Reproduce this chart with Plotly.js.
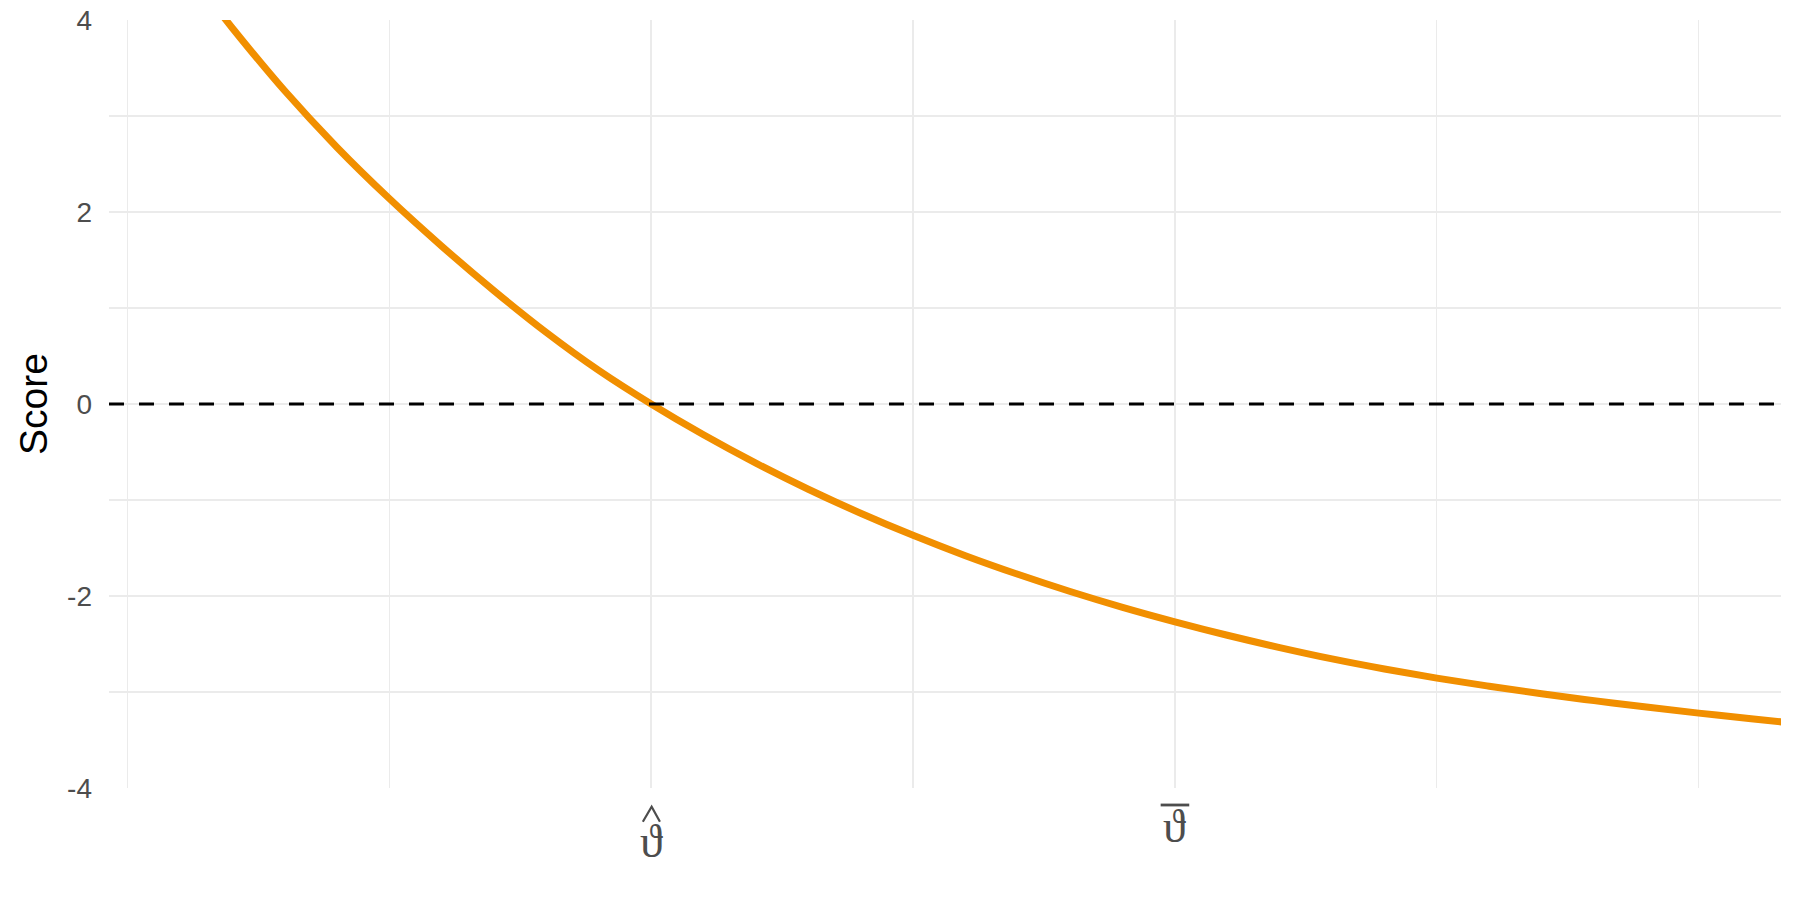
<!DOCTYPE html>
<html>
<head>
<meta charset="utf-8">
<script src="https://cdn.plot.ly/plotly-3.0.1.min.js"></script>
<style>html,body{margin:0;padding:0;background:#fff;}</style>
</head>
<body>
<div id="chart" style="width:1800px;height:900px;"></div>
<script>
// Parameter grid (units where theta-hat = 1 and theta-bar = 2); score values
const thetaGrid   = [0.15, 0.2, 0.3, 0.4, 0.5, 0.6, 0.7, 0.8, 0.9, 1.0, 1.1, 1.2, 1.3, 1.4, 1.5, 1.6,
                     1.7, 1.8, 1.9, 2.0, 2.1, 2.2, 2.3, 2.4, 2.5, 2.6, 2.7, 2.8, 2.9, 3.0, 3.1, 3.16];
const scoreValues = [4.27, 3.92, 3.265, 2.675, 2.14, 1.645, 1.18, 0.745, 0.35, 0.0, -0.321, -0.616,
                     -0.888, -1.138, -1.368, -1.58, -1.774, -1.953, -2.118, -2.269, -2.409, -2.537,
                     -2.655, -2.76, -2.855, -2.94, -3.018, -3.09, -3.157, -3.22, -3.279, -3.313];

const xTickVals    = [1, 2];
const xTickLabels  = ['\u03D1', '\u03D1'];     // vartheta
const xTickAccents = ['hat', 'bar'];            // theta-hat, theta-bar
const xMinorVals   = [0, 0.5, 1.5, 2.5, 3];
const yTickVals    = [-4, -2, 0, 2, 4];
const yTickLabels  = ['-4', '-2', '0', '2', '4'];
const yMinorVals   = [-3, -1, 1, 3];
const scoreZero    = 0;
const yTitle       = 'Score';

const gridCol = '#EBEBEB';
const labelCol = '#4D4D4D';
const serif = 'Liberation Serif, DejaVu Serif, serif';

const trace = {
  x: thetaGrid,
  y: scoreValues,
  type: 'scatter',
  mode: 'lines',
  line: {color: '#F18F00', width: 7, shape: 'spline', smoothing: 1},
  hoverinfo: 'skip',
  showlegend: false
};

const annotations = [];
const shapes = [{
  type: 'line', xref: 'paper', x0: 0, x1: 1, yref: 'y', y0: scoreZero, y1: scoreZero,
  line: {color: '#000000', width: 3, dash: '15px,15px'}
}];
xTickVals.forEach((v, i) => {
  const isHat = xTickAccents[i] === 'hat';
  annotations.push({
    xref: 'x', x: v, yref: 'paper', y: 0, xanchor: 'center', yanchor: 'middle',
    yshift: isHat ? -53 : -38, showarrow: false,
    text: xTickLabels[i], font: {family: serif, size: 46, color: labelCol}
  });
  if (isHat) {
    // circumflex accent drawn as a small chevron above the label
    shapes.push({
      type: 'path', xref: 'x', xsizemode: 'pixel', xanchor: v,
      yref: 'paper', ysizemode: 'pixel', yanchor: 0,
      path: 'M-8.3,-33.7 L0.5,-18.7 L8.8,-33.7',
      line: {color: labelCol, width: 2.2}
    });
  } else {
    // macron accent
    shapes.push({
      type: 'line', xref: 'x', xsizemode: 'pixel', xanchor: v, x0: -14.3, x1: 14.3,
      yref: 'paper', ysizemode: 'pixel', yanchor: 0, y0: -17, y1: -17,
      line: {color: labelCol, width: 2.8}
    });
  }
});

const layout = {
  width: 1800,
  height: 900,
  margin: {l: 109, r: 19, t: 20, b: 112, pad: 0},
  paper_bgcolor: '#FFFFFF',
  plot_bgcolor: '#FFFFFF',
  showlegend: false,
  font: {family: 'Liberation Sans, Arial, sans-serif', color: labelCol},
  xaxis: {
    range: [-0.035, 3.157],
    tickmode: 'array',
    tickvals: xTickVals,
    showticklabels: false,
    ticks: '',
    showgrid: true,
    gridcolor: gridCol,
    gridwidth: 2.2,
    minor: {tickmode: 'array', tickvals: xMinorVals, showgrid: true, gridcolor: gridCol, gridwidth: 1.1, ticks: ''},
    zeroline: false,
    showline: false
  },
  yaxis: {
    range: [-4, 4],
    tickmode: 'array',
    tickvals: yTickVals,
    ticktext: yTickLabels,
    tickfont: {family: 'Liberation Sans, Arial, sans-serif', size: 28, color: labelCol},
    ticks: '',
    ticklabelstandoff: 16,
    showgrid: true,
    gridcolor: gridCol,
    gridwidth: 2.2,
    minor: {tickmode: 'array', tickvals: yMinorVals, showgrid: true, gridcolor: gridCol, gridwidth: 1.1, ticks: ''},
    zeroline: false,
    showline: false,
    title: {text: yTitle, font: {family: 'Liberation Sans, Arial, sans-serif', size: 39, color: '#000000'}, standoff: 7}
  },
  shapes: shapes,
  annotations: annotations
};

Plotly.newPlot('chart', [trace], layout, {staticPlot: true, displayModeBar: false});
</script>
</body>
</html>
